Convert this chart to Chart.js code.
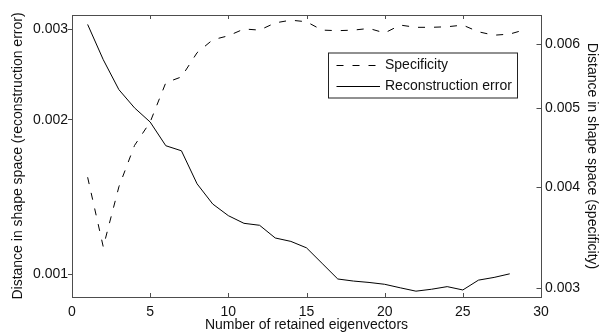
<!DOCTYPE html>
<html>
<head>
<meta charset="utf-8">
<script src="https://cdn.jsdelivr.net/npm/chart.js@4.4.1/dist/chart.umd.min.js"></script>
<style>
  html, body { margin: 0; padding: 0; background: #fff; }
  canvas { display: block; }
</style>
</head>
<body>
<canvas id="eigenChart" width="615" height="334"></canvas>
<script>
// number of retained eigenvectors (x)
const eigenvectorCounts = [1, 2, 3, 4, 5, 6, 7, 8, 9, 10, 11, 12, 13, 14, 15,
  16, 17, 18, 19, 20, 21, 22, 23, 24, 25, 26, 27, 28, 29];

// left axis, log scale
const reconstructionError = [0.00307, 0.00262, 0.00229, 0.00211, 0.00198, 0.00178, 0.00174,
  0.00150, 0.00137, 0.00130, 0.001256, 0.001245, 0.001176, 0.001158, 0.001125,
  0.001049, 0.000978, 0.000969, 0.000963, 0.000955, 0.000940, 0.000926, 0.000934,
  0.000945, 0.000931, 0.000973, 0.000985, 0.001001];

// right axis, log scale
const specificity = [0.00411, 0.00337, 0.00400, 0.00450, 0.00481, 0.00538, 0.00547,
  0.00586, 0.00608, 0.00615, 0.00627, 0.00625, 0.00638, 0.00643, 0.00640,
  0.00625, 0.00624, 0.00625, 0.00628, 0.00620, 0.00634, 0.00630, 0.00630,
  0.00631, 0.00634, 0.00622, 0.00616, 0.00618, 0.00626];

const xTicks = [0, 5, 10, 15, 20, 25, 30];
const leftTicks = [0.001, 0.002, 0.003];
const rightTicks = [0.003, 0.004, 0.005, 0.006];

const axisColor = "#4d4d4d";
const textColor = "#111";

Chart.defaults.font.family = "'Liberation Sans', Arial, Helvetica, sans-serif";
Chart.defaults.font.size = 14;
Chart.defaults.color = textColor;

function toPoints(values) {
  return values.map((v, i) => ({ x: eigenvectorCounts[i], y: v }));
}

// matlab style box, inward ticks and legend inside the axes
const matlabBox = {
  id: "matlabBox",
  afterDraw(chart) {
    const { ctx, chartArea: a, scales } = chart;
    ctx.save();
    ctx.strokeStyle = axisColor;
    ctx.lineWidth = 1;
    ctx.beginPath();
    ctx.moveTo(a.left, a.top + 0.5);
    ctx.lineTo(a.right, a.top + 0.5);
    scales.x.ticks.forEach((t) => {
      const px = Math.round(scales.x.getPixelForValue(t.value)) + 0.5;
      ctx.moveTo(px, a.bottom);
      ctx.lineTo(px, a.bottom - 4);
      ctx.moveTo(px, a.top);
      ctx.lineTo(px, a.top + 4);
    });
    scales.y2.ticks.forEach((t) => {
      const py = Math.round(scales.y2.getPixelForValue(t.value)) + 0.5;
      ctx.moveTo(a.right, py);
      ctx.lineTo(a.right - 4.5, py);
    });
    ctx.stroke();

    // legend
    const boxRight = a.right - 24;
    const boxTop = a.top + 37.5;
    const boxW = 189;
    const boxH = 45;
    const boxLeft = boxRight - boxW;
    ctx.fillStyle = "#fff";
    ctx.fillRect(boxLeft, boxTop, boxW, boxH);
    ctx.strokeStyle = "#222";
    ctx.strokeRect(boxLeft + 0.5, boxTop + 0.5, boxW, boxH);

    ctx.font = "14px 'Liberation Sans', Arial, sans-serif";
    ctx.textBaseline = "middle";
    ctx.fillStyle = textColor;
    chart.data.datasets.forEach((ds, i) => {
      const y = Math.round(boxTop + 12.5 + i * 21) + 0.5;
      ctx.strokeStyle = ds.borderColor;
      ctx.lineWidth = ds.borderWidth;
      ctx.setLineDash(ds.borderDash || []);
      ctx.beginPath();
      ctx.moveTo(boxLeft + 8.5, y);
      ctx.lineTo(boxLeft + 52, y);
      ctx.stroke();
      ctx.setLineDash([]);
      ctx.fillText(ds.label, boxLeft + 57, y);
    });
    ctx.restore();
  },
};

const ctx = document.getElementById("eigenChart").getContext("2d");

new Chart(ctx, {
  type: "line",
  data: {
    datasets: [
      {
        label: "Specificity",
        data: toPoints(specificity),
        yAxisID: "y2",
        borderColor: "#000",
        borderWidth: 1,
        borderDash: [7, 9],
        pointRadius: 0,
        tension: 0,
        fill: false,
      },
      {
        label: "Reconstruction error",
        data: toPoints(reconstructionError),
        yAxisID: "y",
        borderColor: "#000",
        borderWidth: 1,
        pointRadius: 0,
        tension: 0,
        fill: false,
      },
    ],
  },
  options: {
    responsive: false,
    animation: false,
    devicePixelRatio: 1,
    layout: { padding: { top: 15, left: 0, right: 0, bottom: 0 } },
    plugins: {
      legend: { display: false },
      tooltip: { enabled: false },
    },
    scales: {
      x: {
        type: "linear",
        min: 0,
        max: 30,
        afterBuildTicks: (scale) => {
          scale.ticks = xTicks.map((v) => ({ value: v }));
        },
        afterFit: (scale) => { scale.height = 37; },
        grid: { display: false, drawTicks: false },
        border: { display: true, color: axisColor },
        ticks: { padding: 7, maxRotation: 0 },
        title: {
          display: true,
          text: "Number of retained eigenvectors",
          padding: { top: 0, bottom: 0 },
        },
      },
      y: {
        type: "logarithmic",
        position: "left",
        min: 0.000902,
        max: 0.003203,
        afterBuildTicks: (scale) => {
          scale.ticks = leftTicks.map((v) => ({ value: v }));
        },
        afterFit: (scale) => { scale.width = 72; },
        grid: { display: true, drawOnChartArea: false, drawTicks: true, tickLength: 4, color: axisColor },
        border: { display: true, color: axisColor },
        ticks: { padding: 0, callback: (v) => v.toFixed(3) },
        title: {
          display: true,
          text: "Distance in shape space (reconstruction error)",
          padding: { top: 10, bottom: 0 },
        },
      },
      y2: {
        type: "logarithmic",
        position: "right",
        min: 0.002922,
        max: 0.006525,
        afterBuildTicks: (scale) => {
          scale.ticks = rightTicks.map((v) => ({ value: v }));
        },
        afterFit: (scale) => { scale.width = 74; },
        grid: { display: false, drawTicks: false },
        border: { display: true, color: axisColor },
        ticks: { padding: 4, callback: (v) => v.toFixed(3) },
        title: {
          display: true,
          text: "Distance in shape space (specificity)",
          padding: { top: 14.5, bottom: 0 },
        },
      },
    },
  },
  plugins: [matlabBox],
});
</script>
</body>
</html>
